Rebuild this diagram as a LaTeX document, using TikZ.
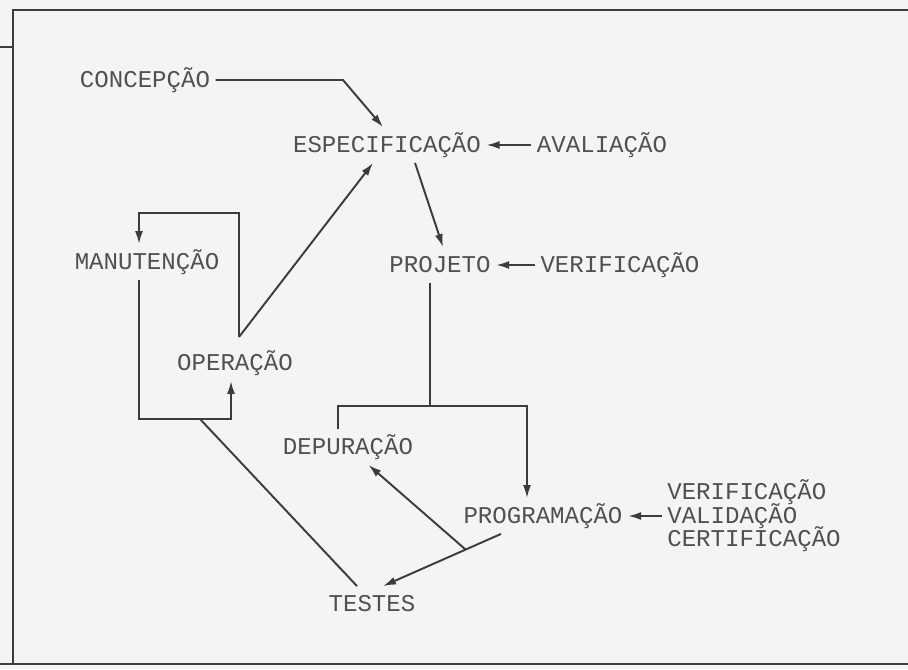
\documentclass[tikz,border=0pt]{standalone}
\usepackage{fontspec}
\setmonofont{Liberation Mono}
\usepackage{tikz}
\usetikzlibrary{arrows.meta,positioning,calc}
\definecolor{Ink}{HTML}{505050}
\definecolor{Rule}{HTML}{3C3C3C}
\definecolor{Paper}{HTML}{F4F4F3}

\begin{document}
\begin{tikzpicture}[
  lbl/.style={font=\ttfamily\fontsize{13.7pt}{13.5pt}\selectfont,text=Ink,text height=11pt,text depth=3pt,inner sep=3pt},
  lbl3/.style={font=\ttfamily\fontsize{13.7pt}{13.5pt}\selectfont,text=Ink,align=left,inner sep=3pt},
  arrow/.style={-{Latex[length=2.6mm,width=1.6mm]},line width=1.1pt,draw=Rule},
  line/.style={line width=1.1pt,draw=Rule},
  frame/.style={line width=1.1pt,draw=Rule}
]
\useasboundingbox[fill=Paper] (0,0) rectangle (18.16,13.38);
\draw[frame] (18.16,13.18) -- (0.26,13.18) -- (0.26,0.10);
\draw[frame] (0,12.44) -- (0.26,12.44);
\draw[frame] (0,0.10) -- (18.16,0.10);

\node[lbl] (concepcao) at (2.90,11.78) {CONCEPÇÃO};
\node[lbl] (espec) at (7.74,10.48) {ESPECIFICAÇÃO};
\node[lbl] (avaliacao) at (12.04,10.48) {AVALIAÇÃO};
\node[lbl] (manut) at (2.94,8.14) {MANUTENÇÃO};
\node[lbl] (projeto) at (8.80,8.08) {PROJETO};
\node[lbl] (verif) at (12.40,8.08) {VERIFICAÇÃO};
\node[lbl] (operacao) at (4.70,6.12) {OPERAÇÃO};
\node[lbl] (depur) at (6.96,4.44) {DEPURAÇÃO};
\node[lbl] (program) at (10.86,3.06) {PROGRAMAÇÃO};
\node[lbl3] (vvc) at (15.08,3.06) {VERIFICAÇÃO\\[-2pt]VALIDAÇÃO\\[-2pt]CERTIFICAÇÃO};
\node[lbl] (testes) at (7.44,1.30) {TESTES};

\coordinate (opTop) at (4.78,6.64);
\coordinate (opJoin) at (4.00,5.00);
\coordinate (pgJoin) at (8.60,5.26);

\draw[arrow] (concepcao) -- (6.86,11.78) -- ([xshift=-0.08cm]espec.north);
\draw[arrow] (avaliacao) -- (espec);
\draw[arrow] ([xshift=0.56cm]espec.south) -- ([xshift=0.06cm]projeto.north);
\draw[arrow] (verif) -- (projeto);
\draw[arrow] (opTop) -- (4.78,9.12) -| ([xshift=-0.16cm]manut.north);
\draw[arrow] (opTop) -- ([xshift=-0.28cm]espec.south);
\draw[arrow] ([xshift=-0.16cm]manut.south) -- (2.78,5.00) -| ([xshift=-0.08cm]operacao.south);
\draw[line] ([xshift=-0.30cm]testes.north) -- (opJoin);
\draw[arrow] ([xshift=-0.20cm]projeto.south) -- (pgJoin) -| ([xshift=-0.32cm]program.north);
\draw[line] ([xshift=-0.20cm]depur.north) |- (pgJoin);
\draw[arrow] ([xshift=-0.84cm]program.south) -- coordinate[pos=0.3] (tsSplit) ([xshift=0.22cm]testes.north);
\draw[arrow] (tsSplit) -- (depur);
\draw[arrow] (vvc) -- (program);
\end{tikzpicture}
\end{document}
